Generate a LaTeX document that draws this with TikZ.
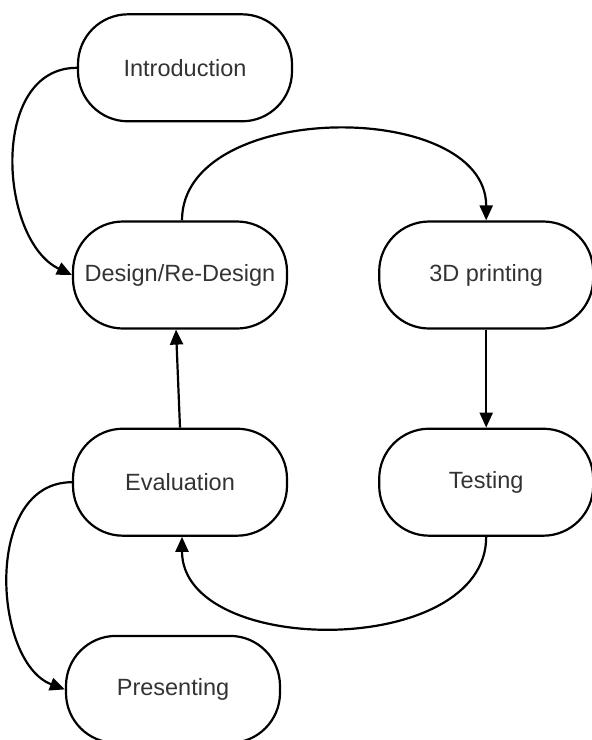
\documentclass[tikz,border=0pt]{standalone}
\usepackage{fontspec}
\setmainfont{Liberation Sans}
\usepackage{tikz}
\usetikzlibrary{arrows.meta,positioning}
\tikzset{
  stage/.style={draw, line width=2.2pt, rounded corners=50pt, minimum width=214pt, minimum height=107pt,
    inner sep=2pt, align=center, text=black!80, font=\fontsize{23.5}{27}\selectfont},
  flow/.style={line width=2.2pt, -{Triangle[length=15pt,width=13pt]}}
}
\begin{document}
\begin{tikzpicture}[x=1pt, y=1pt, node distance=98pt and 90pt]
\useasboundingbox (0,0) rectangle (592,-740);
\node[stage] at (180,-275) (design) {Design/Re-Design};
\node[stage, above=of design, xshift=5pt] (intro) {Introduction};
\node[stage, right=of design] (printing) {3D printing};
\node[stage, below=of printing] (testing) {Testing};
\node[stage, below=of design] (eval) {Evaluation};
\node[stage, below=of eval, xshift=-7pt] (present) {Presenting};

\draw[flow] (intro.west) .. controls +(-88,0) and +(-73,35) .. (design.west);
\draw[flow] ([xshift=2pt]design.north) .. controls +(0,121) and +(0,122) .. (printing.north);
\draw[flow] (printing) -- (testing);
\draw[flow] (testing.south) .. controls +(0,-122) and +(0,-121) .. ([xshift=2pt]eval.south);
\draw[flow] (eval.north) -- ([xshift=-4pt]design.south);
\draw[flow] (eval.west) .. controls +(-89,0) and +(-72,27) .. (present.west);
\end{tikzpicture}
\end{document}
